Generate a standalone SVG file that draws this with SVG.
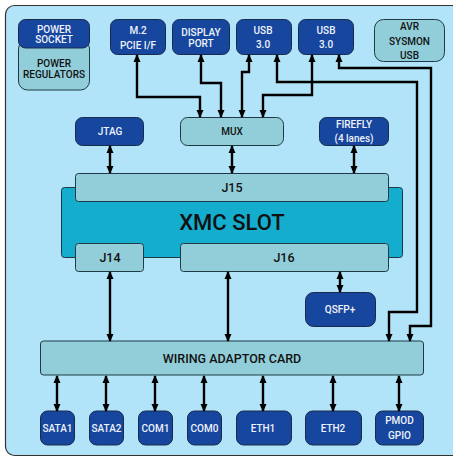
<svg xmlns="http://www.w3.org/2000/svg" width="453" height="458" viewBox="0 0 453 458">
<defs>
<style>
.frame{fill:#b2e4f9;stroke:#333;stroke-width:1.2}
.dk{fill:#17469e;stroke:#1a2a4a;stroke-width:1}
.lt{fill:#92ced9;stroke:#1f3a44;stroke-width:1}
.xmc{fill:#14adcd;stroke:#1f3a44;stroke-width:1}
text{font-family:Roboto,"Liberation Sans",sans-serif;font-weight:500;text-anchor:middle;font-size:10px}
.w{fill:#eef3fb}
.b{fill:#111}
.big{font-size:12.5px}
.c path{fill:none;stroke:#000;stroke-width:2.4;marker-start:url(#a);marker-end:url(#a)}
</style>
<marker id="a" viewBox="0 0 8 8" refX="7" refY="4" markerWidth="8" markerHeight="8" markerUnits="userSpaceOnUse" orient="auto-start-reverse">
<path d="M0,0.5 L8,4 L0,7.5 z" fill="#000"/>
</marker>
</defs>
<rect class="frame" x="5.5" y="5.5" width="470" height="450" rx="9"/>

<g id="power-regulators"><rect class="lt" x="18.5" y="40" width="71" height="50" rx="9"/><text class="b" x="54" y="67">POWER</text><text class="b" x="54" y="78">REGULATORS</text></g>
<g id="power-socket"><rect class="dk" x="18.5" y="19.5" width="71" height="28.5" rx="7"/><text class="w" x="54" y="32.5">POWER</text><text class="w" x="54" y="43">SOCKET</text></g>
<g id="m2"><rect class="dk" x="110.5" y="19.5" width="55" height="35" rx="7"/><text class="w" x="138" y="34">M.2</text><text class="w" x="138" y="49">PCIE I/F</text></g>
<g id="display-port"><rect class="dk" x="172.5" y="19.5" width="57" height="35" rx="7"/><text class="w" x="201" y="35.5">DISPLAY</text><text class="w" x="201" y="47">PORT</text></g>
<g id="usb1"><rect class="dk" x="236.5" y="19.5" width="55" height="35" rx="7"/><text class="w" x="263" y="33.5">USB</text><text class="w" x="263" y="47.5">3.0</text></g>
<g id="usb2"><rect class="dk" x="298.5" y="19.5" width="55" height="35" rx="7"/><text class="w" x="326" y="33.5">USB</text><text class="w" x="326" y="47.5">3.0</text></g>
<g id="avr"><rect class="lt" x="374.5" y="19.5" width="70" height="42" rx="9"/><text class="b" x="409.5" y="29.5">AVR</text><text class="b" x="409.5" y="44.5">SYSMON</text><text class="b" x="409.5" y="58.5">USB</text></g>

<g id="jtag"><rect class="dk" x="75.5" y="117.5" width="68" height="28" rx="7"/><text class="w" x="110" y="135">JTAG</text></g>
<g id="mux"><rect class="lt" x="180.5" y="117.5" width="103" height="28" rx="7"/><text class="b" x="232" y="135">MUX</text></g>
<g id="firefly"><rect class="dk" x="319.5" y="117.5" width="69" height="28" rx="7"/><text class="w" x="354" y="128">FIREFLY</text><text class="w" x="354" y="142">(4 lanes)</text></g>

<g id="xmc-slot"><rect class="xmc" x="61.5" y="187.5" width="341" height="70" rx="3"/><text class="b" x="232" y="230" style="font-size:22px">XMC SLOT</text></g>
<g id="j15"><rect class="lt" x="75.5" y="173.5" width="313" height="28" rx="3"/><text class="b big" x="232" y="192">J15</text></g>
<g id="j14"><rect class="lt" x="75.5" y="243.5" width="68" height="28" rx="3"/><text class="b big" x="110" y="262">J14</text></g>
<g id="j16"><rect class="lt" x="180.5" y="243.5" width="208" height="28" rx="3"/><text class="b big" x="284" y="262">J16</text></g>
<g id="qsfp"><rect class="dk" x="305.5" y="292.5" width="70" height="34" rx="8"/><text class="w" x="340" y="313">QSFP+</text></g>

<g id="wiring-adaptor-card"><rect class="lt" x="40.5" y="341" width="383" height="34" rx="3"/><text class="b big" x="232" y="363">WIRING ADAPTOR CARD</text></g>

<g id="sata1"><rect class="dk" x="40.5" y="411" width="34" height="34" rx="7"/><text class="w" x="57.5" y="432">SATA1</text></g>
<g id="sata2"><rect class="dk" x="89.5" y="411" width="34" height="34" rx="7"/><text class="w" x="106.5" y="432">SATA2</text></g>
<g id="com1"><rect class="dk" x="138.5" y="411" width="34" height="34" rx="7"/><text class="w" x="155.5" y="432">COM1</text></g>
<g id="com0"><rect class="dk" x="187.5" y="411" width="34" height="34" rx="7"/><text class="w" x="204.5" y="432">COM0</text></g>
<g id="eth1"><rect class="dk" x="236.5" y="411" width="55" height="34" rx="7"/><text class="w" x="263" y="432">ETH1</text></g>
<g id="eth2"><rect class="dk" x="305.5" y="411" width="56" height="34" rx="7"/><text class="w" x="333" y="432">ETH2</text></g>
<g id="pmod"><rect class="dk" x="375.5" y="411" width="48" height="34" rx="7"/><text class="w" x="399.5" y="424">PMOD</text><text class="w" x="399.5" y="439">GPIO</text></g>

<g id="connectors" class="c">
<path d="M137,55 V97 H200 V117"/>
<path d="M201,55 V83 H221 V117"/>
<path d="M249,55 V72 H242 V117"/>
<path d="M312,55 V95 H263 V117"/>
<path d="M277,55 V82 H417 V312 H389 V341"/>
<path d="M339,55 V68 H431 V326 H410 V341"/>
<path d="M110,146 V173"/>
<path d="M232,146 V173"/>
<path d="M354,146 V173"/>
<path d="M110,272 V341"/>
<path d="M228,272 V341"/>
<path d="M340,272 V292"/>
<path d="M57,376 V411"/>
<path d="M106,376 V411"/>
<path d="M155,376 V411"/>
<path d="M204,376 V411"/>
<path d="M263,376 V411"/>
<path d="M333,376 V411"/>
<path d="M399,376 V411"/>
</g>
</svg>
